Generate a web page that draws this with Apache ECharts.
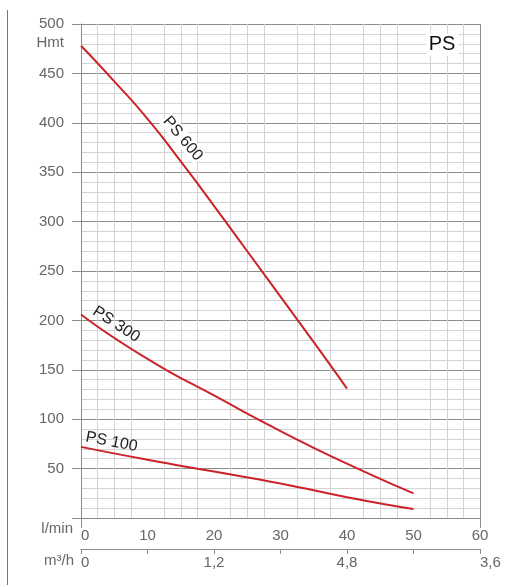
<!DOCTYPE html>
<html><head><meta charset="utf-8">
<script src="https://cdn.jsdelivr.net/npm/echarts@6/dist/echarts.min.js"></script>
<style>html,body{margin:0;padding:0;background:#fff}#c{width:518px;height:587px}</style>
</head><body><div id="c"></div>
<script>
// Data (l/min vs head in m)
const ps600Flow = [0, 5, 10, 15, 20, 25, 30, 35, 40];
const ps600Head = [478, 442, 404, 361, 316, 270, 224, 178, 131];
const ps300Flow = [0, 10, 20, 30, 40, 50];
const ps300Head = [206, 161, 124, 88, 55, 25];
const ps100Flow = [0, 10, 20, 30, 40, 50];
const ps100Head = [72, 59, 47, 35, 21, 9];
const curveNames = ['PS 600', 'PS 300', 'PS 100'];
const m3hLabels = ['0', '', '1,2', '', '4,8', '', '3,6'];
const labelAnchors = [[15.3, 384], [5.3, 196], [4.6, 77]];
const labelAngles = [-50, -33, -11];

const FONT = 'Liberation Sans, Arial, sans-serif';
const RED = '#cc2229';
const MAJOR = '#8c8c8c';
const MINOR = '#d4d4d4';
const TXT = '#666';

function pairs(xs, ys) { return xs.map((x, i) => [x, ys[i]]); }

const chart = echarts.init(document.getElementById('c'));
const gridBox = {left: 81, top: 24, width: 399, height: 494};

function lineSeries(name, xs, ys) {
  return {
    name, type: 'line', data: pairs(xs, ys), smooth: 0.6, symbol: 'none',
    lineStyle: {color: RED, width: 2}, xAxisIndex: 0, yAxisIndex: 0, z: 5
  };
}

chart.setOption({
  animation: false,
  backgroundColor: '#fff',
  grid: gridBox,
  xAxis: [{
    type: 'value', min: 0, max: 60, interval: 10, position: 'bottom',
    axisLine: {show: true, lineStyle: {color: MAJOR, width: 1}},
    axisTick: {show: true, customValues: [0, 60], length: 10, lineStyle: {color: MAJOR}},
    minorTick: {show: true, splitNumber: 4, length: 0, lineStyle: {color: 'rgba(0,0,0,0)'}},
    splitLine: {show: true, lineStyle: {color: MAJOR, width: 1}},
    minorSplitLine: {show: true, lineStyle: {color: MINOR, width: 1}},
    axisLabel: {color: TXT, fontFamily: FONT, fontSize: 15, margin: 10, alignMinLabel: 'left'}
  }, {
    type: 'value', min: 0, max: 60, interval: 10, position: 'bottom', offset: 31,
    gridIndex: 0,
    axisLine: {show: true, onZero: false, lineStyle: {color: MAJOR, width: 1}},
    axisTick: {show: true, inside: false, length: 5, lineStyle: {color: MAJOR}},
    splitLine: {show: false},
    axisLabel: {
      color: TXT, fontFamily: FONT, fontSize: 15, margin: 6,
      alignMinLabel: 'left', alignMaxLabel: 'left',
      formatter: (v) => m3hLabels[Math.round(v / 10)] || ''
    }
  }],
  yAxis: [{
    type: 'value', min: 0, max: 500, interval: 50,
    axisLine: {show: true, lineStyle: {color: MAJOR, width: 1}},
    axisTick: {show: true, length: 9, lineStyle: {color: MAJOR}},
    minorTick: {show: true, splitNumber: 5, length: 0, lineStyle: {color: 'rgba(0,0,0,0)'}},
    splitLine: {show: true, lineStyle: {color: MAJOR, width: 1}},
    minorSplitLine: {show: true, lineStyle: {color: MINOR, width: 1}},
    axisLabel: {color: TXT, fontFamily: FONT, fontSize: 15, margin: 17,
      formatter: (v) => v === 0 ? '' : String(v)}
  }],
  series: [
    lineSeries(curveNames[0], ps600Flow, ps600Head),
    lineSeries(curveNames[1], ps300Flow, ps300Head),
    lineSeries(curveNames[2], ps100Flow, ps100Head)
  ]
});

const gfx = [];
// page border line on left
gfx.push({type: 'line', shape: {x1: 7.5, y1: 10, x2: 7.5, y2: 585}, style: {stroke: '#777', lineWidth: 1}});
// curve labels
curveNames.forEach((n, i) => {
  const p = chart.convertToPixel({gridIndex: 0}, labelAnchors[i]);
  gfx.push({type: 'text', x: p[0], y: p[1], rotation: labelAngles[i] * Math.PI / 180, z: 10,
    style: {text: n, fill: '#222', font: '16px ' + FONT, align: 'center', verticalAlign: 'middle',
      backgroundColor: i === 0 ? '#fff' : 'transparent', padding: [0, 1]}});
});
// Hmt under 500
const p500 = chart.convertToPixel({gridIndex: 0}, [0, 500]);
gfx.push({type: 'text', x: p500[0] - 17, y: p500[1] + 19, style: {text: 'Hmt', fill: TXT, font: '15px ' + FONT, align: 'right', verticalAlign: 'middle'}});
// unit labels
const p0 = chart.convertToPixel({gridIndex: 0}, [0, 0]);
gfx.push({type: 'text', x: p0[0] - 8, y: p0[1] + 11, style: {text: 'l/min', fill: TXT, font: '15px ' + FONT, align: 'right', verticalAlign: 'middle'}});
gfx.push({type: 'text', x: p0[0] - 7, y: p0[1] + 43, style: {text: 'm³/h', fill: TXT, font: '15px ' + FONT, align: 'right', verticalAlign: 'middle'}});
// PS title in corner
const pT = chart.convertToPixel({gridIndex: 0}, [54.3, 479]);
gfx.push({type: 'text', x: pT[0], y: pT[1], z: 10, style: {text: 'PS', fill: '#111', font: '20px ' + FONT, align: 'center', verticalAlign: 'middle', backgroundColor: '#fff', padding: [1, 3]}});
chart.setOption({graphic: gfx});
</script></body></html>
